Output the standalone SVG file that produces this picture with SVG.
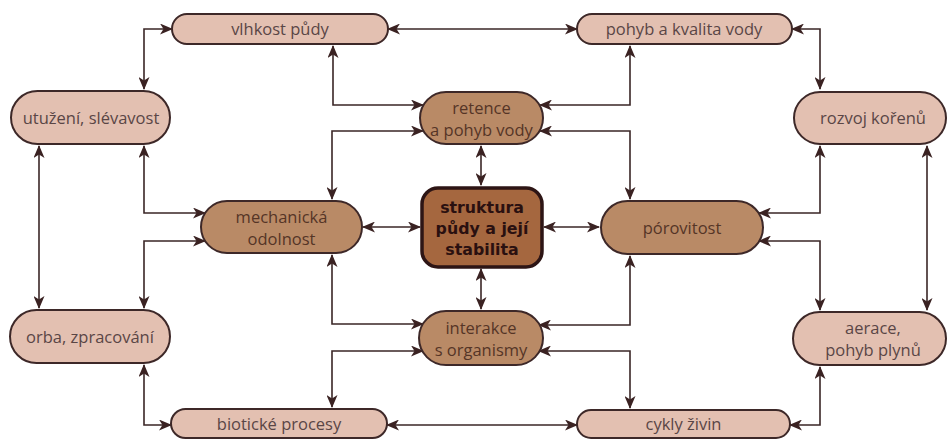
<svg xmlns="http://www.w3.org/2000/svg" width="947" height="439" viewBox="0 0 947 439">
<defs>
<marker id="ah" viewBox="0 0 13 11" refX="12" refY="5.5" markerWidth="13" markerHeight="11" markerUnits="userSpaceOnUse" orient="auto-start-reverse">
<path d="M0,0 L13,5.5 L0,11 L3.5,5.5 z" fill="#3a2222"/>
</marker>
<style>
.c{fill:none;stroke:#3a2626;stroke-width:1.6;marker-start:url(#ah);marker-end:url(#ah)}
.l{fill:#e3c0b1;stroke:#3d2828;stroke-width:2}
.m{fill:#b98a66;stroke:#3d2828;stroke-width:2}
.s{fill:#a5673f;stroke:#2d1515;stroke-width:3.5}
.t{font-family:"Open Sans","DejaVu Sans",sans-serif;font-size:16.5px;fill:#5a4646;text-anchor:middle}
.tm{font-family:"Open Sans","DejaVu Sans",sans-serif;font-size:16.5px;fill:#553526;text-anchor:middle}
.ts{font-family:"DejaVu Sans","Noto Sans",sans-serif;font-size:15.8px;font-weight:bold;fill:#2a1010;text-anchor:middle}
</style>
</defs>
<rect width="947" height="439" fill="#ffffff"/>
<g id="connectors">
<path class="c" d="M172,29 H144 V89"/>
<path class="c" d="M388,29 H577"/>
<path class="c" d="M792,29 H820 V89"/>
<path class="c" d="M333,46 V105 H423"/>
<path class="c" d="M630,46 V105 H540"/>
<path class="c" d="M332,199 V131 H423"/>
<path class="c" d="M630,199 V131 H540"/>
<path class="c" d="M481,146 V185"/>
<path class="c" d="M144,146 V213 H205"/>
<path class="c" d="M144,308 V241 H205"/>
<path class="c" d="M39,146 V308"/>
<path class="c" d="M144,365 V425 H171"/>
<path class="c" d="M387,425 H577"/>
<path class="c" d="M790,425 H820 V367"/>
<path class="c" d="M332,255 V324 H423"/>
<path class="c" d="M332,407 V351 H423"/>
<path class="c" d="M630,256 V325 H539"/>
<path class="c" d="M630,408 V351 H539"/>
<path class="c" d="M481,269 V309"/>
<path class="c" d="M363,227 H420"/>
<path class="c" d="M544,227 H599"/>
<path class="c" d="M820,146 V213 H759"/>
<path class="c" d="M820,310 V241 H759"/>
<path class="c" d="M927,146 V310"/>
</g>
<g id="vlhkost"><rect class="l" x="172" y="14" width="216" height="30" rx="15"/><text class="t" x="280" y="35">vlhkost půdy</text></g>
<g id="pohyb-vody"><rect class="l" x="577" y="14" width="215" height="30" rx="15"/><text class="t" x="684" y="35">pohyb a kvalita vody</text></g>
<g id="utuzeni"><rect class="l" x="11" y="91" width="159" height="53" rx="26.5"/><text class="t" x="91" y="123.5">utužení, slévavost</text></g>
<g id="rozvoj"><rect class="l" x="794" y="92" width="152" height="52" rx="26"/><text class="t" x="873" y="123.5">rozvoj kořenů</text></g>
<g id="retence"><rect class="m" x="420" y="92" width="123" height="52" rx="26"/><text class="tm" x="481.5" y="114">retence</text><text class="tm" x="481.5" y="136">a pohyb vody</text></g>
<g id="mechanicka"><rect class="m" x="201" y="201" width="161" height="52" rx="26"/><text class="tm" x="281.5" y="223">mechanická</text><text class="tm" x="281.5" y="245">odolnost</text></g>
<g id="struktura"><rect class="s" x="422" y="188" width="120" height="79" rx="16"/><text class="ts" x="482" y="213">struktura</text><text class="ts" x="482" y="234">půdy a její</text><text class="ts" x="482" y="255">stabilita</text></g>
<g id="porovitost"><rect class="m" x="601" y="201" width="162" height="53" rx="26.5"/><text class="tm" x="682" y="233.5">pórovitost</text></g>
<g id="orba"><rect class="l" x="10" y="310" width="160" height="53" rx="26.5"/><text class="t" x="90" y="342.5">orba, zpracování</text></g>
<g id="interakce"><rect class="m" x="419" y="311" width="124" height="54" rx="27"/><text class="tm" x="481" y="334">interakce</text><text class="tm" x="481" y="356">s organismy</text></g>
<g id="aerace"><rect class="l" x="793" y="312" width="153" height="53" rx="26.5"/><text class="t" x="873" y="334">aerace,</text><text class="t" x="873" y="356">pohyb plynů</text></g>
<g id="bioticke"><rect class="l" x="171" y="409" width="216" height="29" rx="14.5"/><text class="t" x="279" y="429.5">biotické procesy</text></g>
<g id="cykly"><rect class="l" x="577" y="410" width="213" height="28" rx="14"/><text class="t" x="683.5" y="430">cykly živin</text></g>
</svg>
